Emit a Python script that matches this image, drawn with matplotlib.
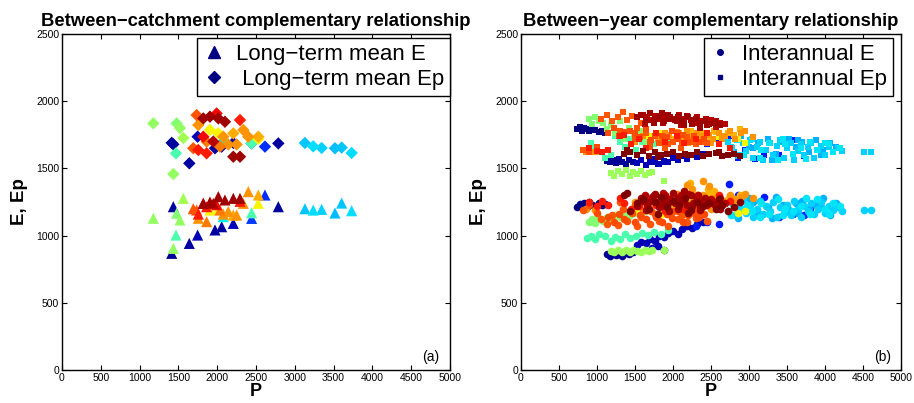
import numpy as np
import matplotlib

matplotlib.use("Agg")
import matplotlib.pyplot as plt  # noqa: E402
from matplotlib.lines import Line2D  # noqa: E402

plt.rcParams["font.family"] = ["Liberation Sans", "DejaVu Sans"]

# ---- (a) long-term means per catchment: P, E, Ep, colour value (jet 0..1)
lt_P = [1177, 1478, 1521, 1564, 1435, 1469, 1641, 1435, 1414, 1748,
        1972, 2058, 2208, 2444, 2616, 2788, 3131, 3238, 3346, 3518,
        3604, 3733, 1735, 1757, 1821, 1907, 2015, 2100, 1993, 2294,
        1821, 1907, 2015, 1864, 2079, 2208, 2337, 2401, 2530, 2444,
        1757, 1864, 2036, 2143, 2251, 2208, 2294, 1692, 2079, 2530, 1950]
lt_E = [1129, 1166, 1116, 1277, 1215, 1004, 942, 905, 868, 1004,
        1042, 1066, 1091, 1128, 1302, 1215, 1200, 1190, 1195, 1168,
        1242, 1185, 1190, 1129, 1240, 1250, 1290, 1265, 1230, 1255,
        1240, 1190, 1200, 1104, 1160, 1153, 1240, 1327, 1302, 1170,
        1160, 1215, 1190, 1180, 1153, 1277, 1277, 1200, 1141, 1240, 1240]
lt_Ep = [1835, 1835, 1800, 1726, 1679, 1612, 1538, 1458, 1690, 1736,
         1650, 1662, 1690, 1686, 1662, 1686, 1689, 1664, 1652, 1650,
         1655, 1615, 1897, 1823, 1872, 1885, 1872, 1847, 1909, 1860,
         1736, 1786, 1761, 1699, 1736, 1761, 1786, 1736, 1736, 1686,
         1637, 1612, 1662, 1678, 1678, 1587, 1587, 1650, 1700, 1720, 1700]
lt_c = [0.53, 0.51, 0.53, 0.55, 0.03, 0.44, 0.03, 0.53, 0.02, 0.05,
        0.03, 0.03, 0.05, 0.18, 0.17, 0.03, 0.32, 0.34, 0.33, 0.31,
        0.32, 0.34, 0.82, 0.75, 0.97, 0.97, 0.97, 0.97, 0.90, 0.88,
        0.90, 0.65, 0.65, 0.78, 0.75, 0.73, 0.75, 0.75, 0.73, 0.44,
        0.88, 0.88, 0.78, 0.75, 0.75, 0.97, 0.97, 0.82, 0.36, 0.65, 0.95]

# ---- (b) interannual values, one set of lists per catchment group
dblue_w_c = 0.0
dblue_w_P = [740, 770, 800, 830, 870, 900, 940, 980, 1020, 1070, 1110]
dblue_w_E = [1210, 1235, 1225, 1240, 1215, 1250, 1230, 1220, 1245, 1225, 1235]
dblue_w_Ep = [1790, 1810, 1780, 1800, 1790, 1775, 1795, 1785, 1770, 1780, 1765]

dblue_s_c = 0.02
dblue_s_P = [1130, 1170, 1210, 1250, 1290, 1330, 1380, 1420, 1470]
dblue_s_E = [860, 845, 870, 855, 865, 850, 870, 860, 875]
dblue_s_Ep = [1555, 1545, 1560, 1540, 1570, 1550, 1535, 1560, 1545]

dblue_m_c = 0.05
dblue_m_P = [1520, 1580, 1640, 1700, 1760, 1820, 1880, 1940, 2000, 2060,
             2120, 2180, 2250, 2320, 2390, 1720, 1800, 1880]
dblue_m_E = [930, 955, 945, 975, 960, 1000, 990, 1020, 1035, 1010,
             1050, 1070, 1060, 1090, 1100, 905, 925, 890]
dblue_m_Ep = [1540, 1560, 1525, 1550, 1570, 1535, 1555, 1545, 1580, 1560,
              1590, 1570, 1600, 1585, 1610, 1545, 1530, 1550]

blue_c = 0.15
blue_P = [2300, 2450, 2600, 2740, 2850, 2950, 3080, 3200, 3400, 3580, 3720, 3800]
blue_E = [1070, 1100, 1085, 1385, 1300, 1290, 1150, 1290, 1140, 1160, 1150, 1200]
blue_Ep = [1700, 1680, 1720, 1740, 1580, 1640, 1570, 1600, 1600, 1710, 1590, 1700]

cyan_a_c = 0.33
cyan_a_P = [2720, 2780, 2830, 2870, 2920, 2960, 3010, 3050, 3100, 3140,
            3190, 3230, 3280, 3320, 3370, 3410, 3460, 3500, 3550, 3590,
            3640, 3680, 3730, 3770, 3820, 3860, 3910, 3950, 4000, 4050,
            4110, 4170, 4230, 4510, 4610]
cyan_a_E = [1180, 1240, 1150, 1210, 1270, 1170, 1230, 1140, 1200, 1260,
            1160, 1220, 1180, 1250, 1140, 1210, 1170, 1230, 1150, 1260,
            1200, 1140, 1220, 1180, 1240, 1160, 1200, 1250, 1170, 1220,
            1190, 1210, 1180, 1190, 1190]
cyan_a_Ep = [1700, 1650, 1720, 1600, 1690, 1630, 1710, 1580, 1660, 1700,
             1560, 1640, 1690, 1600, 1670, 1710, 1580, 1650, 1690, 1560,
             1630, 1680, 1600, 1660, 1690, 1580, 1640, 1670, 1600, 1660,
             1620, 1650, 1630, 1620, 1620]

cyan_b_c = 0.30
cyan_b_P = [2800, 2900, 3000, 3120, 3250, 3350, 3450, 3530, 3620, 3700,
            3790, 3880, 3970, 4060, 4140, 3300, 3650, 3050, 3950, 2850]
cyan_b_E = [1220, 1190, 1280, 1170, 1210, 1290, 1230, 1190, 1240, 1260,
            1200, 1230, 1280, 1150, 1240, 1130, 1170, 1250, 1210, 1130]
cyan_b_Ep = [1620, 1740, 1660, 1690, 1720, 1610, 1700, 1720, 1660, 1700,
             1620, 1710, 1640, 1690, 1660, 1560, 1710, 1650, 1600, 1590]

cyan_c_c = 0.35
cyan_c_P = [2760, 2840, 2940, 3040, 3160, 3260, 3380, 3480, 3580, 3680,
            3800, 3900, 4000, 4100, 4200, 3150, 3450, 3750, 4050, 2980]
cyan_c_E = [1150, 1260, 1200, 1180, 1240, 1160, 1270, 1200, 1180, 1220,
            1160, 1270, 1200, 1240, 1220, 1140, 1150, 1280, 1160, 1230]
cyan_c_Ep = [1660, 1710, 1600, 1720, 1640, 1690, 1560, 1680, 1610, 1650,
             1700, 1640, 1690, 1620, 1650, 1580, 1720, 1570, 1680, 1690]

teal_c = 0.44
teal_P = [870, 920, 980, 1180, 1240, 1300, 1370, 1440, 1510, 1590,
          1670, 1750, 1840, 1930, 1100, 1020]
teal_E = [985, 1000, 975, 960, 990, 975, 1010, 985, 1000, 1020,
          1005, 1030, 1015, 1040, 1000, 1010]
teal_Ep = [1625, 1690, 1650, 1600, 1740, 1700, 1660, 1720, 1640, 1700,
           1730, 1680, 1710, 1690, 1580, 1620]

green_c = 0.51
green_P = [890, 930, 980, 1030, 1080, 1130, 1180, 1240, 1300, 1360,
           1420, 1490, 1560, 1640]
green_E = [1100, 1120, 1095, 1130, 1110, 1140, 1125, 1150, 1135, 1160,
           1145, 1170, 1150, 1180]
green_Ep = [1870, 1830, 1880, 1850, 1840, 1790, 1820, 1760, 1850, 1720,
            1800, 1750, 1780, 1700]

lgreen_c = 0.54
lgreen_P = [1180, 1230, 1280, 1330, 1380, 1430, 1480, 1530, 1580, 1630,
            1680, 1730, 1880]
lgreen_E = [885, 880, 890, 875, 895, 880, 890, 885, 880, 895, 885, 890, 890]
lgreen_Ep = [1465, 1440, 1480, 1455, 1490, 1445, 1470, 1460, 1480, 1450,
             1465, 1470, 1410]

yellow_c = 0.65
yellow_P = [1500, 1680, 1850, 2050, 2300, 2600, 2850, 2950]
yellow_E = [1190, 1220, 1160, 1240, 1200, 1230, 1170, 1180]
yellow_Ep = [1700, 1740, 1760, 1720, 1750, 1730, 1720, 1690]

orange_b_c = 0.72
orange_b_P = [2000, 2080, 2160, 2240, 2320, 2400, 2480, 2560, 2640, 2720,
              2800, 2880, 2220, 2460, 2540]
orange_b_E = [1230, 1280, 1320, 1250, 1300, 1240, 1310, 1290, 1230, 1270,
              1250, 1300, 1390, 1350, 1330]
orange_b_Ep = [1720, 1760, 1740, 1780, 1730, 1760, 1740, 1770, 1730, 1760,
               1750, 1790, 1760, 1700, 1780]

orange_c = 0.75
orange_P = [860, 970, 1500, 1600, 1700, 1800, 1900, 2000, 2100, 2180,
            2250, 2320, 2400, 2470, 2530, 2600, 2680, 2750, 2820, 2900,
            2950, 3050, 2200, 2350, 2500, 1950, 2050, 2150, 2400, 2650]
orange_E = [1200, 1190, 1250, 1180, 1230, 1270, 1200, 1260, 1230, 1380,
            1350, 1300, 1410, 1370, 1280, 1250, 1240, 1300, 1270, 1290,
            1310, 1280, 1220, 1240, 1200, 1280, 1310, 1250, 1300, 1260]
orange_Ep = [1625, 1625, 1700, 1740, 1680, 1720, 1760, 1700, 1740, 1780,
             1720, 1760, 1700, 1750, 1720, 1760, 1740, 1780, 1720, 1760,
             1780, 1730, 1690, 1710, 1690, 1750, 1770, 1700, 1740, 1720]

ored_c = 0.82
ored_P = [820, 1050, 1130, 1200, 1270, 1340, 1400, 1460, 1520, 1580,
          1640, 1700, 1760, 1820, 1880, 1940, 2000, 2060, 2120, 2180,
          2240, 2300, 2380, 2450, 1300, 1500, 1700, 1900, 2100, 2300]
ored_E = [1190, 1120, 1090, 1150, 1080, 1200, 1110, 1170, 1075, 1140,
          1200, 1090, 1160, 1110, 1230, 1070, 1180, 1120, 1150, 1100,
          1200, 1130, 1170, 1110, 1250, 1230, 1260, 1250, 1210, 1190]
ored_Ep = [1640, 1870, 1900, 1850, 1880, 1920, 1860, 1890, 1800, 1840,
           1760, 1700, 1740, 1690, 1720, 1680, 1700, 1760, 1690, 1730,
           1700, 1720, 1700, 1690, 1780, 1720, 1660, 1650, 1650, 1680]

ored_b_c = 0.83
ored_b_P = [1150, 1220, 1290, 1360, 1430, 1500, 1570, 1640, 1710, 1780,
            1850, 1920, 1990, 2060, 2130, 2200, 2270, 2340, 2410, 1000, 900]
ored_b_E = [1140, 1100, 1160, 1120, 1180, 1100, 1150, 1120, 1180, 1140,
            1100, 1160, 1130, 1180, 1100, 1150, 1170, 1140, 1160, 1170, 1230]
ored_b_Ep = [1760, 1800, 1740, 1770, 1780, 1760, 1730, 1790, 1710, 1760,
             1740, 1730, 1780, 1720, 1750, 1700, 1740, 1700, 1720, 1660, 1620]

red_c = 0.88
red_P = [900, 1000, 1070, 1150, 1300, 1360, 1450, 1550, 1650, 1780,
         1900, 2050, 2150, 2300, 2450, 2600, 2750]
red_E = [1250, 1220, 1260, 1230, 1280, 1240, 1200, 1220, 1260, 1230,
         1180, 1250, 1200, 1280, 1230, 1300, 1260]
red_Ep = [1650, 1630, 1620, 1640, 1740, 1750, 1680, 1720, 1650, 1760,
          1700, 1740, 1690, 1720, 1760, 1680, 1650]

dred_c_c = 0.95
dred_c_P = [1600, 1660, 1720, 1780, 1840, 1900, 1960, 2020, 2080, 2140,
            2200, 2260, 2320, 2380, 2440, 2500, 2560, 2620, 2680, 1630,
            1870, 2110, 2330, 2570]
dred_c_E = [1260, 1230, 1290, 1250, 1220, 1300, 1270, 1240, 1290, 1260,
            1310, 1240, 1280, 1260, 1230, 1270, 1250, 1280, 1240, 1300,
            1320, 1300, 1300, 1220]
dred_c_Ep = [1900, 1880, 1860, 1890, 1870, 1900, 1880, 1860, 1900, 1870,
             1880, 1860, 1880, 1850, 1870, 1860, 1850, 1840, 1830, 1830,
             1840, 1820, 1840, 1810]

dred_a_c = 0.97
dred_a_P = [1520, 1580, 1640, 1700, 1760, 1820, 1880, 1940, 2000, 2060,
            2120, 2180, 2240, 2300, 2360, 2420, 2480, 2550, 2620, 1650,
            1850, 2050, 2250, 2450, 1750, 1950, 2150, 2350]
dred_a_E = [1220, 1280, 1190, 1260, 1310, 1210, 1290, 1240, 1320, 1200,
            1270, 1230, 1300, 1250, 1210, 1280, 1240, 1230, 1200, 1250,
            1240, 1270, 1220, 1260, 1300, 1180, 1330, 1190]
dred_a_Ep = [1880, 1900, 1860, 1910, 1870, 1890, 1850, 1900, 1870, 1880,
             1850, 1890, 1860, 1870, 1840, 1850, 1830, 1840, 1820, 1860,
             1910, 1850, 1830, 1820, 1840, 1870, 1820, 1800]

dred_b_c = 1.0
dred_b_P = [1360, 1440, 1520, 1600, 1680, 1760, 1840, 1920, 2000, 2080,
            2160, 2240, 2320, 2400, 2480, 2560, 2640, 2720, 2800, 2880,
            1400, 1800, 2200, 2600]
dred_b_E = [1300, 1180, 1240, 1270, 1200, 1250, 1290, 1210, 1260, 1230,
            1280, 1190, 1250, 1220, 1240, 1200, 1230, 1180, 1210, 1250,
            1320, 1160, 1170, 1270]
dred_b_Ep = [1610, 1620, 1600, 1630, 1590, 1620, 1600, 1610, 1625, 1595,
             1610, 1600, 1620, 1590, 1605, 1615, 1595, 1600, 1610, 1590,
             1640, 1585, 1600, 1620]

groups = [
    (dblue_w_c, dblue_w_P, dblue_w_E, dblue_w_Ep),
    (dblue_s_c, dblue_s_P, dblue_s_E, dblue_s_Ep),
    (dblue_m_c, dblue_m_P, dblue_m_E, dblue_m_Ep),
    (blue_c, blue_P, blue_E, blue_Ep),
    (cyan_b_c, cyan_b_P, cyan_b_E, cyan_b_Ep),
    (cyan_a_c, cyan_a_P, cyan_a_E, cyan_a_Ep),
    (cyan_c_c, cyan_c_P, cyan_c_E, cyan_c_Ep),
    (teal_c, teal_P, teal_E, teal_Ep),
    (green_c, green_P, green_E, green_Ep),
    (lgreen_c, lgreen_P, lgreen_E, lgreen_Ep),
    (yellow_c, yellow_P, yellow_E, yellow_Ep),
    (orange_b_c, orange_b_P, orange_b_E, orange_b_Ep),
    (orange_c, orange_P, orange_E, orange_Ep),
    (ored_c, ored_P, ored_E, ored_Ep),
    (ored_b_c, ored_b_P, ored_b_E, ored_b_Ep),
    (red_c, red_P, red_E, red_Ep),
    (dred_c_c, dred_c_P, dred_c_E, dred_c_Ep),
    (dred_a_c, dred_a_P, dred_a_E, dred_a_Ep),
    (dred_b_c, dred_b_P, dred_b_E, dred_b_Ep),
]

cmap = plt.get_cmap("jet")
navy = cmap(0.0)

fig = plt.figure(figsize=(9.14, 4.03), dpi=100)
ax1 = fig.add_axes([0.0678, 0.0819, 0.4245, 0.8337])
ax2 = fig.add_axes([0.570, 0.0819, 0.4158, 0.8337])

# panel (a): sort by colour so warm colours end up on top
order = np.argsort(lt_c, kind="stable")
P = np.asarray(lt_P)[order]
c = np.asarray(lt_c)[order]
ax1.scatter(P, np.asarray(lt_E)[order], c=c, cmap="jet", vmin=0, vmax=1,
            marker="^", s=64, linewidths=0)
ax1.scatter(P, np.asarray(lt_Ep)[order], c=c, cmap="jet", vmin=0, vmax=1,
            marker="D", s=40, linewidths=0)

# panel (b)
for gc, gP, gE, gEp in groups:
    col = cmap(gc)
    ax2.scatter(gP, gEp, color=col, marker="s", s=22, linewidths=0)
    ax2.scatter(gP, gE, color=col, marker="o", s=30, linewidths=0)

titles = ["Between\u2212catchment complementary relationship",
          "Between\u2212year complementary relationship"]
for ax, title, tag in zip((ax1, ax2), titles, ("(a)", "(b)")):
    ax.set_xlim(0, 5000)
    ax.set_ylim(0, 2500)
    ax.set_xticks(range(0, 5001, 500))
    ax.set_yticks(range(0, 2501, 500))
    ax.tick_params(direction="in", top=True, right=True, labelsize=7.5,
                   length=3.5, width=0.8, pad=2)
    for sp in ax.spines.values():
        sp.set_linewidth(1.0)
    ax.set_title(title, fontsize=13.3, fontweight="bold", pad=6)
    ax.set_xlabel("P", fontsize=13, fontweight="bold", labelpad=0)
    ax.set_ylabel("E, Ep", fontsize=13.5, fontweight="bold", labelpad=6)
    ax.text(0.951, 0.04, tag, transform=ax.transAxes, ha="center",
            va="center", fontsize=10)

leg_kw = dict(loc="upper right", borderaxespad=0, fancybox=False,
              framealpha=1, edgecolor="black", fontsize=16,
              labelspacing=0.2, borderpad=0.25, handlelength=1.0,
              handletextpad=0.5)
h1 = [Line2D([], [], ls="none", marker="^", ms=8, color=navy),
      Line2D([], [], ls="none", marker="D", ms=6, color=navy)]
lg1 = ax1.legend(h1, ["Long\u2212term mean E", " Long\u2212term mean Ep"],
                 bbox_to_anchor=(1.0, 0.988), **leg_kw)
h2 = [Line2D([], [], ls="none", marker="o", ms=4, color=navy),
      Line2D([], [], ls="none", marker="s", ms=3.5, color=navy)]
lg2 = ax2.legend(h2, ["Interannual E", "Interannual Ep"],
                 bbox_to_anchor=(0.979, 0.988), **leg_kw)
for lg in (lg1, lg2):
    lg.get_frame().set_linewidth(1.0)

fig.savefig("out.png", dpi=100)
plt.close(fig)
